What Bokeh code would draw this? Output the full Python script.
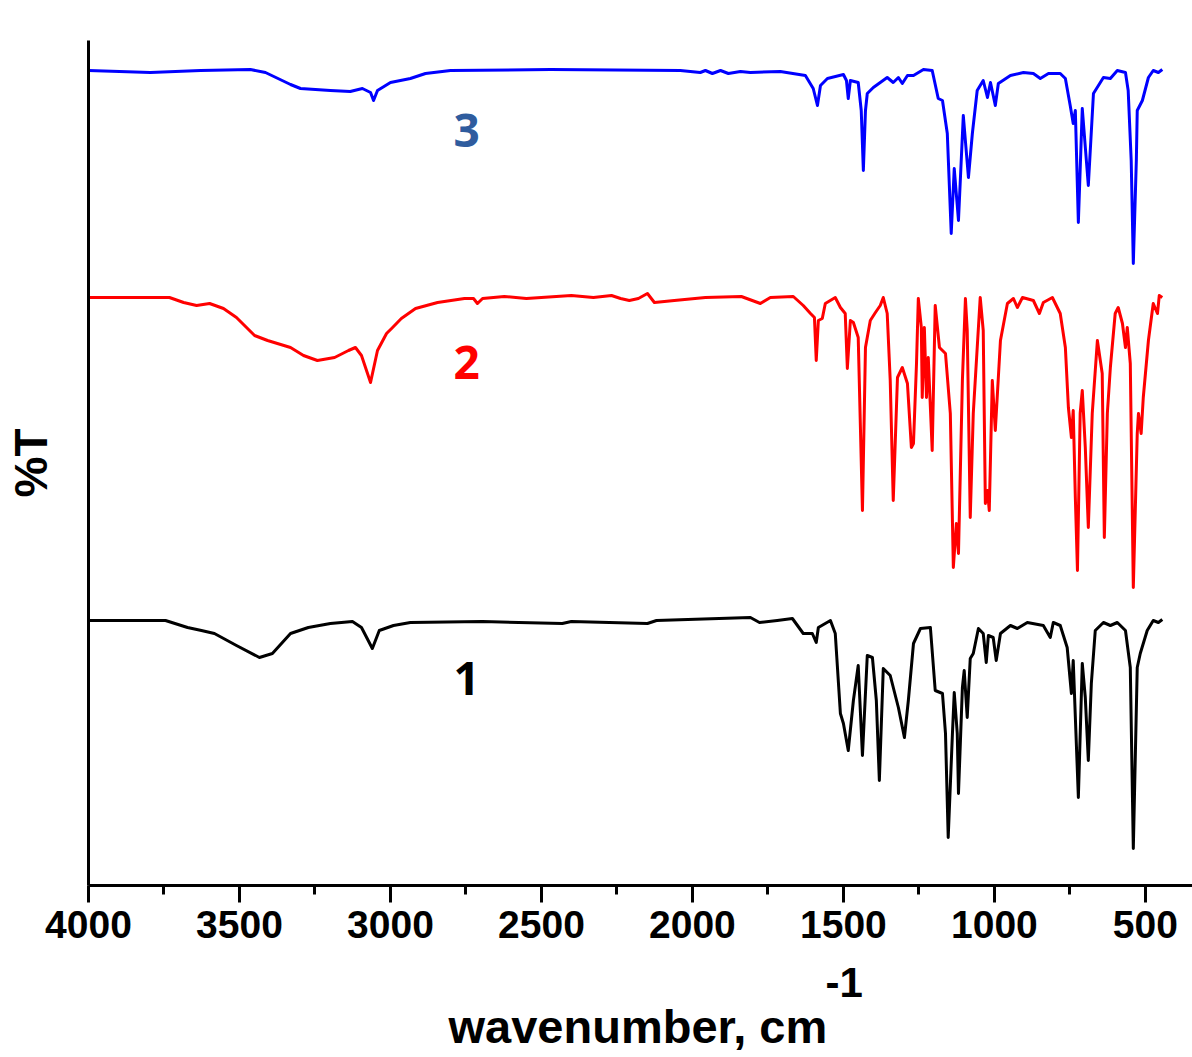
from bokeh.plotting import figure
from bokeh.models import Range1d, FixedTicker, Label, Title
from bokeh.embed import file_html
from bokeh.resources import INLINE

# ---- data (wavenumber in cm^-1, %T in arbitrary offset units) ----
wn_3 = [4000, 3795, 3629, 3464, 3414, 3331, 3298, 3199, 3133, 3093, 3066, 3056, 3043, 3000,
        2934, 2884, 2801, 2470, 2040, 1974, 1957, 1934, 1907, 1881, 1841, 1808, 1709, 1626,
        1600, 1586, 1576, 1553, 1500, 1490, 1484, 1477, 1451, 1441, 1434, 1427, 1421, 1401,
        1355, 1335, 1318, 1305, 1288, 1268, 1235, 1206, 1186, 1172, 1156, 1143, 1133, 1119,
        1103, 1086, 1073, 1057, 1037, 1023, 1013, 997, 987, 947, 904, 871, 848, 821, 782,
        765, 749, 739, 732, 722, 709, 689, 672, 639, 616, 593, 566, 557, 547, 540, 530, 527,
        510, 490, 474, 457, 444]
t_3 = [815, 813, 815, 816, 813, 801, 797, 795, 794, 797, 793, 785, 795, 803,
       807, 812, 815, 816, 815, 813, 815, 812, 815, 812, 814, 813, 814, 810,
       797, 780, 800, 807, 811, 805, 787, 805, 803, 775, 715, 775, 792, 798,
       808, 803, 808, 802, 810, 810, 816, 815, 787, 785, 752, 652, 717, 665,
       770, 708, 752, 795, 805, 788, 803, 780, 802, 810, 813, 812, 807, 812, 812,
       807, 780, 762, 775, 663, 777, 700, 792, 808, 807, 815, 813, 795, 725, 622, 725, 775,
       785, 808, 815, 813, 816]

wn_2 = [4000, 3732, 3685, 3642, 3599, 3553, 3510, 3450, 3407, 3331, 3288, 3242, 3185, 3139,
        3116, 3096, 3066, 3043, 3013, 2993, 2964, 2917, 2844, 2755, 2725, 2712, 2695, 2623,
        2550, 2401, 2328, 2268, 2238, 2209, 2179, 2149, 2126, 2060, 1957, 1838, 1775, 1742,
        1666, 1633, 1609, 1596, 1590, 1583, 1570, 1560, 1527, 1510, 1494, 1487, 1477, 1467,
        1451, 1437, 1427, 1411, 1394, 1378, 1368, 1355, 1345, 1335, 1321, 1305, 1288, 1275,
        1268, 1258, 1252, 1242, 1239, 1232, 1225, 1219, 1206, 1196, 1182, 1162, 1146, 1136,
        1126, 1119, 1106, 1096, 1090, 1080, 1070, 1047, 1037, 1030, 1023, 1017, 1007, 997,
        980, 957, 937, 924, 907, 871, 851, 838, 808, 782, 765, 755, 745, 739, 732, 725, 716,
        709, 699, 689, 676, 659, 643, 636, 626, 616, 600, 590, 576, 566, 560, 550, 540, 527,
        523, 514, 507, 490, 474, 460, 454, 444]
t_2 = [588, 588, 583, 580, 582, 577, 568, 550, 545, 538, 530, 525, 528, 535,
       538, 530, 503, 535, 552, 558, 567, 577, 583, 587, 587, 582, 587, 589,
       587, 590, 588, 590, 587, 585, 587, 592, 583, 585, 588, 589, 582, 588,
       589, 580, 572, 568, 525, 565, 567, 582, 588, 578, 572, 517, 565, 563,
       548, 375, 538, 565, 573, 580, 588, 572, 505, 385, 508, 518, 502, 438,
       442, 522, 587, 558, 488, 558, 488, 528, 435, 580, 538, 532, 472, 318,
       362, 332, 505, 587, 555, 368, 472, 588, 555, 382, 395, 375, 505, 455,
       545, 582, 587, 578, 588, 585, 572, 583, 588, 572, 538, 478, 448, 475, 388, 315, 472,
       495, 438, 358, 472, 545, 512, 348, 472, 518, 572, 578, 562, 538, 558, 522, 298, 452,
       472, 452, 488, 545, 582, 572, 590, 588]

wn_1 = [4000, 3745, 3672, 3626, 3583, 3510, 3434, 3391, 3331, 3272, 3199, 3126, 3096, 3060,
        3037, 2990, 2934, 2695, 2431, 2401, 2149, 2119, 1808, 1778, 1719, 1669, 1633, 1603,
        1590, 1583, 1543, 1527, 1510, 1500, 1484, 1467, 1451, 1437, 1421, 1404, 1391, 1381,
        1368, 1345, 1318, 1298, 1285, 1268, 1245, 1212, 1196, 1172, 1162, 1153, 1139, 1133,
        1123, 1119, 1106, 1100, 1090, 1080, 1070, 1053, 1037, 1027, 1020, 1004, 994, 980,
        947, 924, 891, 838, 815, 805, 782, 759, 745, 739, 722, 709, 699, 689, 679, 666, 639,
        616, 593, 566, 550, 540, 527, 517, 494, 474, 457, 444]
t_1 = [265, 265, 258, 255, 252, 240, 228, 232, 252, 258, 262, 264, 258, 237,
       255, 260, 263, 264, 262, 264, 262, 265, 268, 263, 265, 267, 252, 252,
       243, 258, 265, 252, 172, 162, 135, 185, 220, 130, 230, 228, 185, 105,
       217, 210, 178, 148, 185, 242, 257, 258, 195, 192, 152, 48, 152, 193,
       152, 92, 198, 215, 168, 227, 232, 257, 252, 223, 250, 248, 225, 252,
       260, 257, 263, 260, 248, 263, 260, 238, 192, 225, 88, 222, 188, 125, 202, 255, 263,
       260, 263, 255, 218, 37, 218, 232, 255, 265, 263, 266]

series_names = ["1", "2", "3"]
series_colors = ["#000000", "#FF0000", "#0000FF"]
label_colors = ["#000000", "#FF0000", "#2F5C9E"]
label_wn = [2748, 2748, 2748]
label_t = [207, 523, 755]

major_ticks = [4000, 3500, 3000, 2500, 2000, 1500, 1000, 500]
minor_ticks = [3750, 3250, 2750, 2250, 1750, 1250, 750]

x_title = "wavenumber, cm"
x_title_sup = "-1"
y_title = "%T"

p = figure(width=1192, height=1057, output_backend="svg", toolbar_location=None,
           x_range=Range1d(4000, 344), y_range=Range1d(0, 845),
           min_border_left=88, min_border_right=0, min_border_top=40, min_border_bottom=172)
p.outline_line_color = None
p.xgrid.grid_line_color = None
p.ygrid.grid_line_color = None
p.background_fill_color = "white"
p.border_fill_color = "white"

for wn, t, c in zip([wn_1, wn_2, wn_3], [t_1, t_2, t_3], series_colors):
    p.line(wn, t, line_color=c, line_width=3, line_join="round")

# x axis
xa = p.xaxis[0]
xa.ticker = FixedTicker(ticks=major_ticks, minor_ticks=minor_ticks)
xa.axis_line_width = 3
xa.major_tick_line_width = 3
xa.minor_tick_line_width = 3
xa.major_tick_out = 17
xa.major_tick_in = 0
xa.minor_tick_out = 9
xa.minor_tick_in = 0
xa.major_label_text_font = "Liberation Sans"
xa.major_label_text_font_style = "bold"
xa.major_label_text_font_size = "39px"
xa.major_label_text_color = "black"
xa.major_label_standoff = 8

# y axis
ya = p.yaxis[0]
ya.ticker = FixedTicker(ticks=[])
ya.axis_line_width = 3
ya.major_tick_out = 0
ya.major_tick_in = 0
ya.minor_tick_out = 0
ya.minor_tick_in = 0
ya.major_label_text_font_size = "0px"
ya.major_label_standoff = 0
ya.axis_label = y_title
ya.axis_label_text_font = "Liberation Sans"
ya.axis_label_text_font_style = "bold"
ya.axis_label_text_font_size = "46px"
ya.axis_label_text_color = "black"
ya.axis_label_standoff = 32

# x axis title: superscript row first (closer to axis), then main text row
p.add_layout(Title(text=x_title_sup, align="left", offset=737, standoff=50,
                   text_font="Liberation Sans", text_font_style="bold",
                   text_font_size="42px", text_color="black"), "below")
p.add_layout(Title(text=x_title, align="left", offset=360, standoff=-47,
                   text_font="Liberation Sans", text_font_style="bold",
                   text_font_size="47px", text_color="black"), "below")

for name, c, x, y in zip(series_names, label_colors, label_wn, label_t):
    p.add_layout(Label(x=x, y=y, text=name, text_align="center", text_baseline="middle",
                       text_font="Open Sans", text_font_style="bold",
                       text_font_size="46px", text_color=c))

open("out.html", "w").write(file_html(p, INLINE))
